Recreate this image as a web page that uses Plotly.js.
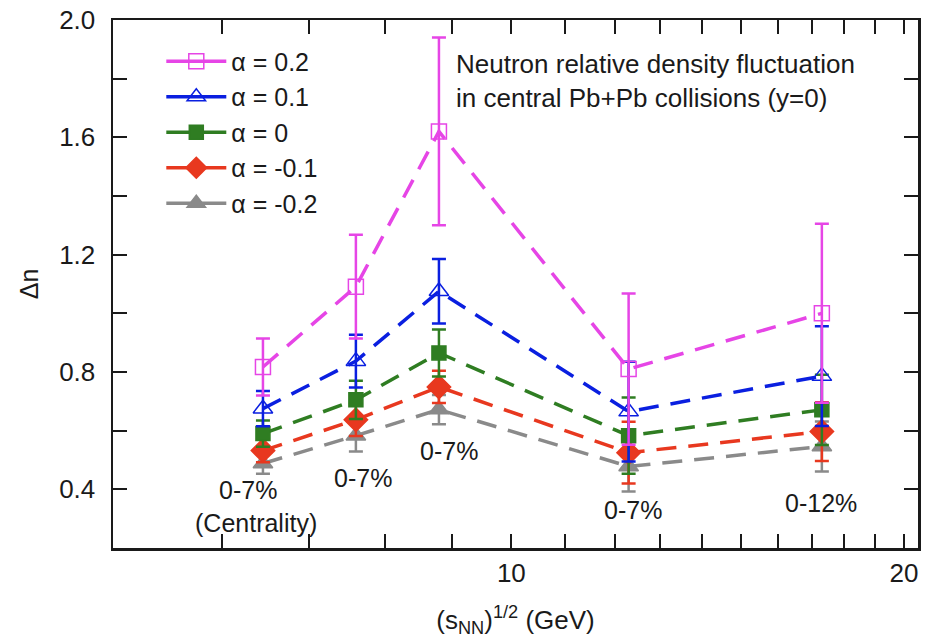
<!DOCTYPE html>
<html>
<head>
<meta charset="utf-8">
<script src="https://cdn.plot.ly/plotly-3.0.1.min.js"></script>
<style>html,body{margin:0;padding:0;background:#fff;}#chart{width:925px;height:641px;}</style>
</head>
<body>
<div id="chart"></div>
<script>
// Collision energies (GeV)
const energies = [6.45, 7.6, 8.8, 12.3, 17.3];
const centralityLabels = ['0-7%', '0-7%', '0-7%', '0-7%', '0-12%'];

// Δn values and symmetric errors per alpha
const alphaLabels = ['α = 0.2', 'α = 0.1', 'α = 0', 'α = -0.1', 'α = -0.2'];
const dn_a02  = [0.817, 1.091, 1.620, 0.810, 1.000];
const err_a02 = [0.097, 0.177, 0.320, 0.258, 0.305];
const dn_a01  = [0.675, 0.837, 1.075, 0.665, 0.786];
const err_a01 = [0.060, 0.090, 0.110, 0.170, 0.170];
const dn_a00  = [0.590, 0.705, 0.865, 0.583, 0.671];
const err_a00 = [0.045, 0.065, 0.080, 0.130, 0.120];
const dn_am01  = [0.532, 0.637, 0.749, 0.525, 0.597];
const err_am01 = [0.040, 0.055, 0.055, 0.105, 0.100];
const dn_am02  = [0.488, 0.583, 0.672, 0.478, 0.546];
const err_am02 = [0.035, 0.054, 0.050, 0.085, 0.085];

// Axis ticks
const xTickVals = [6,7,8,9,10,11,12,13,14,15,16,17,18,19,20];
const xTickText = ['','','','','10','','','','','','','','','','20'];
const yTickVals = [0.4,0.6,0.8,1.0,1.2,1.4,1.6,1.8,2.0];
const yTickText = ['0.4','','0.8','','1.2','','1.6','','2.0'];

const series = [
  {name: alphaLabels[0], y: dn_a02,  e: err_a02,  color: '#e645e6', symbol: 'square-open',      size: 15},
  {name: alphaLabels[1], y: dn_a01,  e: err_a01,  color: '#0a1fe0', symbol: 'triangle-up-open', size: 17},
  {name: alphaLabels[2], y: dn_a00,  e: err_a00,  color: '#2f7d22', symbol: 'square',           size: 14},
  {name: alphaLabels[3], y: dn_am01, e: err_am01, color: '#e8381f', symbol: 'diamond',          size: 18},
  {name: alphaLabels[4], y: dn_am02, e: err_am02, color: '#8a8a8a', symbol: 'triangle-up',      size: 17}
];

const traces = [];
// data traces, drawn from lowest to highest so magenta sits on top
series.slice().reverse().forEach(s => {
  traces.push({
    x: energies, y: s.y, type: 'scatter', mode: 'lines+markers', showlegend: false,
    line: {color: s.color, width: 3.5, dash: '20px,12px'},
    marker: {color: s.color, symbol: s.symbol, size: s.size, line: {color: s.color, width: 1.5}},
    error_y: {type: 'data', array: s.e, visible: true, color: s.color, thickness: 2.5, width: 7}
  });
});
// legend entries (solid line segments as in the reference)
series.forEach(s => {
  traces.push({
    x: [null], y: [null], type: 'scatter', mode: 'lines+markers', name: s.name,
    line: {color: s.color, width: 3.5},
    marker: {color: s.color, symbol: s.symbol, size: s.size, line: {color: s.color, width: 1.5}}
  });
});

const font = {family: 'Liberation Sans, Arial, sans-serif', color: '#1a1a1a'};
const annY = [0.397, 0.437, 0.532, 0.329, 0.353];
const annShift = [-15, 7, 10, 4, -1];
const annotations = energies.map((x, i) => ({
  x: Math.log10(x), y: annY[i], xref: 'x', yref: 'y', text: centralityLabels[i],
  showarrow: false, xshift: annShift[i], font: Object.assign({size: 25}, font)
}));
annotations.push({
  x: Math.log10(energies[0]), y: 0.285, xref: 'x', yref: 'y', text: '(Centrality)',
  showarrow: false, xshift: -7, font: Object.assign({size: 25}, font)
});
annotations.push({
  x: 0.424, y: 0.884, xref: 'paper', yref: 'paper', xanchor: 'left', yanchor: 'middle', align: 'left',
  text: 'Neutron relative density fluctuation<br>in central Pb+Pb collisions (y=0)',
  showarrow: false, font: Object.assign({size: 26}, font)
});

const axisCommon = {
  showline: true, linecolor: '#1a1a1a', linewidth: 2.5, mirror: 'allticks',
  ticks: 'inside', ticklen: 14, tickwidth: 2, tickcolor: '#1a1a1a',
  showgrid: false, zeroline: false, tickfont: Object.assign({size: 26}, font)
};

const layout = {
  width: 925, height: 641,
  margin: {l: 113, r: 7, t: 20, b: 93},
  paper_bgcolor: '#ffffff', plot_bgcolor: '#ffffff',
  font: font,
  showlegend: true,
  legend: {x: 0.06, y: 0.965, xanchor: 'left', yanchor: 'top', bgcolor: 'rgba(0,0,0,0)',
           font: Object.assign({size: 25}, font), itemwidth: 60, tracegroupgap: 0},
  xaxis: Object.assign({}, axisCommon, {
    type: 'log', range: [Math.log10(4.95), Math.log10(20.5)],
    tickmode: 'array', tickvals: xTickVals, ticktext: xTickText,
    title: {text: '(s<sub>NN</sub>)<sup>1/2</sup> (GeV)', font: Object.assign({size: 26}, font), standoff: 24}
  }),
  yaxis: Object.assign({}, axisCommon, {
    range: [0.2, 2.0], tickmode: 'array', tickvals: yTickVals, ticktext: yTickText,
    ticklabelstandoff: 10,
    title: {text: 'Δn', font: Object.assign({size: 25}, font), standoff: 14}
  }),
  annotations: annotations
};

Plotly.newPlot('chart', traces, layout, {displayModeBar: false, staticPlot: true});
</script>
</body>
</html>
